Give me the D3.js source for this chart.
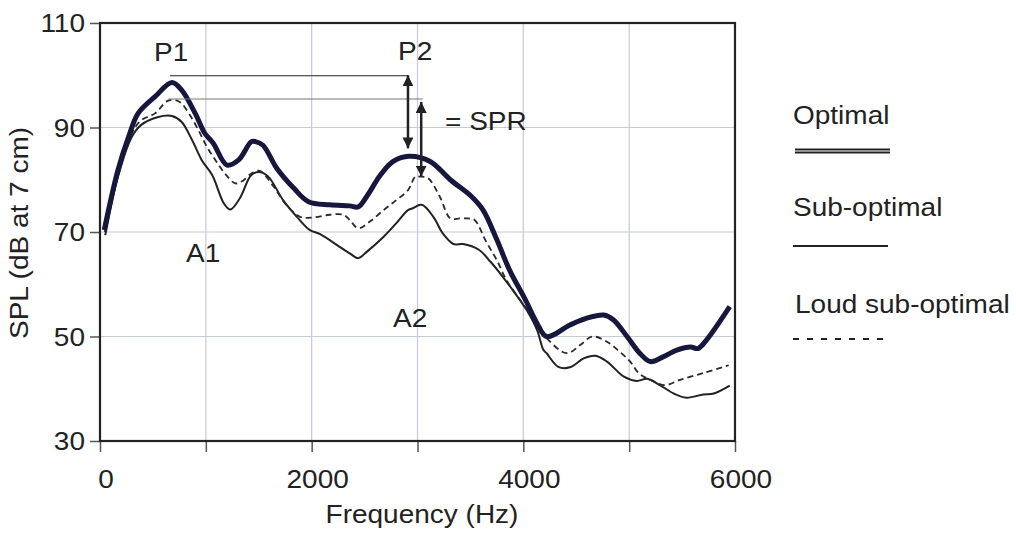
<!DOCTYPE html>
<html lang="en">
<head>
    <meta charset="UTF-8">
    <title>SPL by frequency</title>
    <script src="https://d3js.org/d3.v7.min.js"></script>
    <style>
        body {
            margin: 0;
            background: #fff;
        }
        svg text {
            font-family: "Liberation Sans", Arial, sans-serif;
            font-size: 25px;
            fill: #222;
        }
    </style>
</head>
<body>
    <svg id="chart" width="1016" height="537"></svg>
    <script>
        // values (Hz / dB)
        const optimalFreq = [40, 170, 270, 360, 520, 680, 770, 900, 990, 1070, 1200, 1310, 1430, 1470, 1540, 1670, 1830, 1970, 2170, 2360, 2440, 2520, 2650, 2770, 2920, 3120, 3310, 3510, 3620, 3750, 3870, 4020, 4130, 4220, 4440, 4600, 4760, 4850, 4980, 5100, 5200, 5320, 5450, 5580, 5650, 5730, 5950];
        const optimalSPL = [70.4, 81.9, 88.2, 92.7, 95.9, 98.6, 97.2, 92.7, 88.9, 87.0, 82.8, 83.8, 87.3, 87.3, 86.6, 82.2, 78.4, 75.8, 75.2, 75.0, 74.8, 76.8, 80.9, 83.5, 84.5, 83.5, 80.0, 76.8, 74.2, 68.5, 62.7, 57.0, 52.5, 50.0, 52.2, 53.5, 54.1, 53.2, 50.0, 46.8, 45.2, 46.1, 47.4, 48.0, 47.7, 49.3, 55.7];

        const subFreq = [50, 170, 300, 390, 550, 680, 770, 870, 960, 1060, 1170, 1230, 1320, 1430, 1510, 1590, 1730, 1860, 1980, 2080, 2240, 2360, 2440, 2520, 2680, 2800, 2910, 2950, 3040, 3150, 3240, 3340, 3430, 3580, 3690, 3780, 3910, 4030, 4130, 4190, 4220, 4330, 4440, 4570, 4680, 4790, 4950, 5070, 5170, 5290, 5420, 5540, 5700, 5800, 5950];
        const subSPL = [69.4, 80.6, 88.2, 90.5, 92.0, 92.2, 91.1, 87.6, 83.8, 80.9, 75.5, 74.3, 76.4, 80.9, 81.5, 80.6, 76.1, 72.9, 70.4, 69.6, 67.5, 65.9, 65.0, 66.2, 69.1, 71.7, 74.2, 74.5, 75.2, 72.9, 69.7, 67.7, 67.7, 66.6, 64.3, 62.1, 58.6, 55.1, 51.2, 47.4, 46.8, 44.2, 44.1, 45.8, 46.3, 45.2, 42.3, 41.5, 41.9, 40.7, 39.1, 38.3, 38.9, 39.1, 40.6];

        const loudFreq = [45, 160, 300, 390, 520, 630, 690, 760, 840, 930, 1010, 1090, 1180, 1280, 1350, 1430, 1510, 1640, 1760, 1890, 2020, 2170, 2300, 2360, 2440, 2550, 2680, 2800, 2910, 2980, 3020, 3100, 3210, 3310, 3400, 3480, 3540, 3650, 3750, 3840, 3970, 4100, 4220, 4410, 4540, 4650, 4790, 4910, 5010, 5090, 5200, 5340, 5480, 5700, 5940];
        const loudSPL = [70.0, 80.0, 88.9, 91.4, 92.7, 95.0, 95.3, 94.8, 92.7, 89.5, 86.3, 83.8, 81.2, 79.3, 79.8, 81.2, 81.7, 78.7, 75.2, 72.9, 72.8, 73.3, 73.3, 72.3, 70.7, 72.0, 74.2, 76.1, 78.0, 80.6, 80.6, 80.3, 76.8, 72.6, 72.6, 72.6, 72.3, 68.1, 64.6, 60.8, 57.0, 53.2, 49.7, 46.8, 48.4, 50.0, 49.0, 47.1, 45.2, 43.0, 41.7, 40.7, 41.7, 43.0, 44.5];

        const freqTicks = [0, 1000, 2000, 3000, 4000, 5000, 6000];
        const freqLabels = [0, 2000, 4000, 6000];
        const splTicks = [30, 50, 70, 90, 110];
        const seriesNames = ["Optimal", "Sub-optimal", "Loud sub-optimal"];

        // P1 / P2 reference levels and SPR arrows
        const peakLines = [
            { from: 660, to: 2910, level: 99.9 },
            { from: 645, to: 3050, level: 95.45 }
        ];
        const sprArrows = [
            { freq: 2910, top: 100.0, bottom: 86.0 },
            { freq: 3035, top: 94.9, bottom: 80.6 }
        ];
        const notes = [
            { text: "P1", freq: 510, spl: 102.8 },
            { text: "P2", freq: 2816, spl: 102.9 },
            { text: "= SPR", freq: 3260, spl: 89.5 },
            { text: "A1", freq: 813, spl: 64.3 },
            { text: "A2", freq: 2769, spl: 51.9 }
        ];

        const svg = d3.select("#chart");
        const x = d3.scaleLinear().domain([0, 6000]).range([100, 735]);
        const y = d3.scaleLinear().domain([30, 110]).range([441, 23]);

        // text in the picture is a little wider than Arial
        function label(x0, y0, txt, anchor, rotate) {
            return svg.append("text")
                .attr("transform", `translate(${x0},${y0})` + (rotate ? " rotate(-90)" : "") + " scale(1.12,1)")
                .attr("text-anchor", anchor || "start")
                .text(txt);
        }

        // grid
        svg.append("g").selectAll("line.v")
            .data(freqTicks.filter(d => d > 0 && d < 6000))
            .enter().append("line")
            .attr("x1", d => x(d)).attr("x2", d => x(d))
            .attr("y1", y(30)).attr("y2", y(110))
            .attr("stroke", "#c6cad6").attr("stroke-width", 1.2);
        svg.append("g").selectAll("line.h")
            .data(splTicks.filter(d => d > 30 && d < 110))
            .enter().append("line")
            .attr("x1", x(0)).attr("x2", x(6000))
            .attr("y1", d => y(d)).attr("y2", d => y(d))
            .attr("stroke", "#c6cad6").attr("stroke-width", 1.2);

        // axes (ticks only, labels drawn below)
        const xAxis = svg.append("g")
            .attr("transform", `translate(0,${y(30)})`)
            .call(d3.axisBottom(x).tickValues(freqTicks).tickSize(11).tickFormat(""));
        const yAxis = svg.append("g")
            .attr("transform", `translate(${x(0)},0)`)
            .call(d3.axisLeft(y).tickValues(splTicks).tickSize(10).tickFormat(""));
        [xAxis, yAxis].forEach(a => {
            a.select(".domain").remove();
            a.selectAll(".tick line").attr("stroke", "#555").attr("stroke-width", 1.5);
        });

        svg.append("rect")
            .attr("x", x(0)).attr("y", y(110))
            .attr("width", x(6000) - x(0)).attr("height", y(30) - y(110))
            .attr("fill", "none").attr("stroke", "#222").attr("stroke-width", 2.2);

        freqLabels.forEach(f => label(x(f) + 6, 488, f, "middle"));
        splTicks.forEach(v => label(85, y(v) + 9, v, "end"));
        label(422, 523, "Frequency (Hz)", "middle");
        label(28, 233, "SPL (dB at 7 cm)", "middle", true);

        // curves
        const line = d3.line()
            .x(d => x(d[0]))
            .y(d => y(d[1]))
            .curve(d3.curveCatmullRom.alpha(0.5));

        svg.append("path")
            .datum(d3.zip(subFreq, subSPL))
            .attr("d", line)
            .attr("fill", "none").attr("stroke", "#222").attr("stroke-width", 2);

        svg.append("path")
            .datum(d3.zip(loudFreq, loudSPL))
            .attr("d", line)
            .attr("fill", "none").attr("stroke", "#2a2a2a").attr("stroke-width", 1.8)
            .attr("stroke-dasharray", "6,4");

        svg.append("path")
            .datum(d3.zip(optimalFreq, optimalSPL))
            .attr("d", line)
            .attr("fill", "none").attr("stroke", "#17173d").attr("stroke-width", 5)
            .attr("stroke-linejoin", "round");

        // peak lines and SPR arrows
        svg.append("defs").append("marker")
            .attr("id", "head")
            .attr("viewBox", "0 0 10 10")
            .attr("refX", 10).attr("refY", 5)
            .attr("markerUnits", "userSpaceOnUse")
            .attr("markerWidth", 11).attr("markerHeight", 11)
            .attr("orient", "auto-start-reverse")
            .append("path").attr("d", "M0,0L10,5L0,10z").attr("fill", "#222");

        svg.selectAll("line.peak")
            .data(peakLines)
            .enter().append("line")
            .attr("x1", d => x(d.from)).attr("x2", d => x(d.to))
            .attr("y1", d => y(d.level)).attr("y2", d => y(d.level))
            .attr("stroke", (d, i) => i === 0 ? "#222" : "#777")
            .attr("stroke-width", 1.2);

        svg.selectAll("line.spr")
            .data(sprArrows)
            .enter().append("line")
            .attr("x1", d => x(d.freq)).attr("x2", d => x(d.freq))
            .attr("y1", d => y(d.top)).attr("y2", d => y(d.bottom))
            .attr("stroke", "#222").attr("stroke-width", 2.5)
            .attr("marker-start", "url(#head)")
            .attr("marker-end", "url(#head)");

        notes.forEach(n => label(x(n.freq), y(n.spl), n.text));

        // legend
        const lg = svg.append("g");
        label(793, 124, seriesNames[0]);
        lg.append("line").attr("x1", 795).attr("x2", 890).attr("y1", 151).attr("y2", 151)
            .attr("stroke", "#222").attr("stroke-width", 5);
        lg.append("line").attr("x1", 795).attr("x2", 890).attr("y1", 151).attr("y2", 151)
            .attr("stroke", "#fff").attr("stroke-width", 1.2);

        label(793, 216, seriesNames[1]);
        lg.append("line").attr("x1", 793).attr("x2", 888).attr("y1", 246).attr("y2", 246)
            .attr("stroke", "#222").attr("stroke-width", 2);

        label(795, 313, seriesNames[2]);
        lg.append("line").attr("x1", 793).attr("x2", 886).attr("y1", 339).attr("y2", 339)
            .attr("stroke", "#222").attr("stroke-width", 2)
            .attr("stroke-dasharray", "6,8");
    </script>
</body>
</html>
